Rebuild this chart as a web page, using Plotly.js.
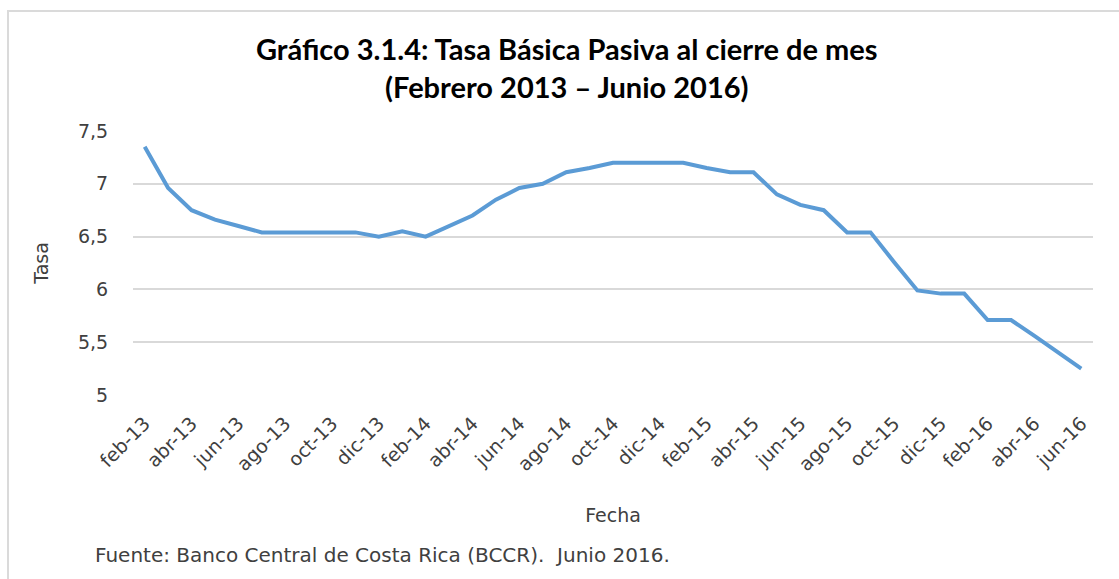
<!DOCTYPE html>
<html>
<head>
<meta charset="utf-8">
<script src="https://cdn.plot.ly/plotly-3.0.1.min.js"></script>
<style>
  body { margin: 0; background: #fff; }
  #wrap { position: relative; width: 1119px; height: 579px; overflow: hidden; }
  #chart { position: absolute; left: 0; top: 0; width: 1119px; height: 579px; }
  #frame { position: absolute; left: 7px; top: 10px; width: 1130px; height: 590px;
           border: 2px solid #dadada; pointer-events: none; }
</style>
</head>
<body>
<div id="wrap">
  <div id="chart"></div>
  <div id="frame"></div>
</div>
<script>
// meses feb-13 .. jun-16
var meses = ['feb-13','mar-13','abr-13','may-13','jun-13','jul-13','ago-13','sep-13','oct-13','nov-13','dic-13',
             'ene-14','feb-14','mar-14','abr-14','may-14','jun-14','jul-14','ago-14','sep-14','oct-14','nov-14','dic-14',
             'ene-15','feb-15','mar-15','abr-15','may-15','jun-15','jul-15','ago-15','sep-15','oct-15','nov-15','dic-15',
             'ene-16','feb-16','mar-16','abr-16','may-16','jun-16'];

// tasa basica pasiva al cierre de mes
var tasa = [7.35, 6.96, 6.75, 6.66, 6.60, 6.54, 6.54, 6.54, 6.54, 6.54, 6.50,
            6.55, 6.50, 6.60, 6.70, 6.85, 6.96, 7.00, 7.11, 7.15, 7.20, 7.20, 7.20,
            7.20, 7.15, 7.11, 7.11, 6.90, 6.80, 6.75, 6.54, 6.54, 6.26, 5.99, 5.96,
            5.96, 5.71, 5.71, 5.56, 5.41, 5.25];

var yTicks = [5, 5.5, 6, 6.5, 7, 7.5];

// una etiqueta cada dos meses
var xTicks = meses.filter(function(m, i) { return i % 2 === 0; });

var serie = {
    x: meses,
    y: tasa,
    mode: 'lines',
    line: {color: '#5b9bd5', width: 4},
    hoverinfo: 'x+y'
};

var font = 'DejaVu Sans, Lato, sans-serif';

var layout = {
    width: 1119,
    height: 579,
    margin: {l: 133, r: 26, t: 131, b: 184},
    paper_bgcolor: '#fff',
    plot_bgcolor: '#fff',
    separators: ', ',
    showlegend: false,
    font: {family: font, size: 18, color: '#404040'},
    xaxis: {
        type: 'category',
        range: [-0.5, meses.length - 0.5],
        tickmode: 'array',
        tickvals: xTicks,
        ticktext: xTicks,
        tickangle: -45,
        tickfont: {family: font, size: 19, color: '#404040'},
        ticks: 'outside', ticklen: 9, tickcolor: 'rgba(0,0,0,0)',
        showgrid: false,
        showline: false,
        zeroline: false,
        title: {text: 'Fecha', font: {family: font, size: 19, color: '#404040'}, standoff: 34}
    },
    yaxis: {
        range: [5, 7.5],
        tickmode: 'array',
        tickvals: yTicks,
        tickfont: {family: font, size: 19, color: '#404040'},
        ticks: 'outside', ticklen: 20, tickcolor: 'rgba(0,0,0,0)',
        showgrid: true,
        gridcolor: '#d9d9d9',
        gridwidth: 2,
        zeroline: false,
        showline: false,
        title: {text: 'Tasa', font: {family: font, size: 19, color: '#404040'}, standoff: 24}
    },
    annotations: [{
        text: '<b>Gráfico 3.1.4: Tasa Básica Pasiva al cierre de mes<br>(Febrero 2013 – Junio 2016)</b>',
        xref: 'paper', x: 0.452, xanchor: 'center',
        yref: 'paper', y: 1.242, yanchor: 'middle',
        showarrow: false,
        font: {family: 'Lato, sans-serif', size: 29, color: '#000'}
    }, {
        text: 'Fuente: Banco Central de Costa Rica (BCCR).  Junio 2016.',
        xref: 'paper', x: -0.042, xanchor: 'left',
        yref: 'paper', y: -0.606, yanchor: 'middle',
        showarrow: false,
        font: {family: font, size: 20, color: '#404040'}
    }]
};

Plotly.newPlot('chart', [serie], layout, {displayModeBar: false, staticPlot: true});
</script>
</body>
</html>
